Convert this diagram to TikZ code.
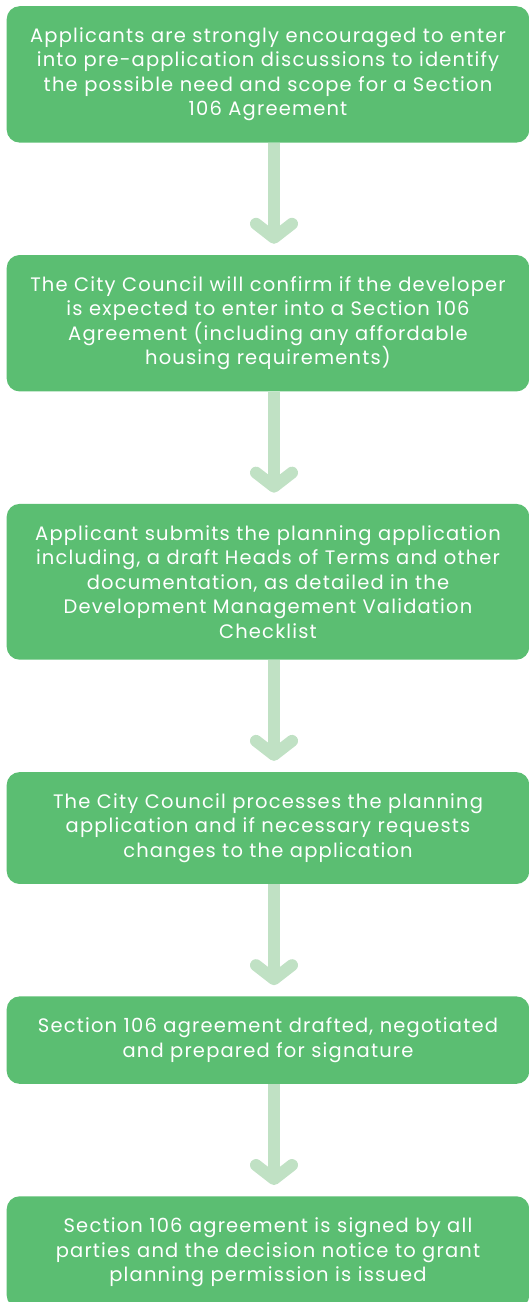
\documentclass[tikz,border=0pt]{standalone}
\usepackage{fontspec}
\setmainfont{Poppins}[LetterSpace=6]
\usepackage{xcolor}
\definecolor{stepgreen}{HTML}{5BBE72}
\definecolor{arrowgreen}{HTML}{C0E1C4}
\usetikzlibrary{arrows.meta,positioning}
\tikzset{
  flowbox/.style={fill=stepgreen,rounded corners=13pt,align=center,text=white,minimum width=520pt,text width=516pt,inner ysep=21.4pt,font=\fontsize{19.5}{24.5}\selectfont},
  flowarrow/.style={-{Straight Barb[length=14pt,width=36pt,round]},line width=12pt,arrowgreen,shorten >=11pt}
}
\begin{document}
\begin{tikzpicture}[x=1pt,y=1pt,node distance=112pt]
\useasboundingbox (0,0) rectangle (529,-1302);
\clip (0,0) rectangle (529,-1302);
\node[flowbox,anchor=north] (pre) at (268,-6) {Applicants are strongly encouraged to enter\\into pre-application discussions to identify\\the possible need and scope for a Section\\106 Agreement};
\node[flowbox,below=of pre] (confirm) {The City Council will confirm if the developer\\is expected to enter into a Section 106\\Agreement (including any affordable\\housing requirements)};
\node[flowbox,below=of confirm] (submit) {Applicant submits the planning application\\including, a draft Heads of Terms and other\\documentation, as detailed in the\\Development Management Validation\\Checklist};
\node[flowbox,below=of submit] (process) {The City Council processes the planning\\application and if necessary requests\\changes to the application};
\node[flowbox,below=of process] (drafted) {Section 106 agreement drafted, negotiated\\and prepared for signature};
\node[flowbox,below=of drafted] (signed) {Section 106 agreement is signed by all\\parties and the decision notice to grant\\planning permission is issued};
\draw[flowarrow] ([xshift=6pt]pre.south)--([xshift=6pt]confirm.north);
\draw[flowarrow] ([xshift=6pt]confirm.south)--([xshift=6pt]submit.north);
\draw[flowarrow] ([xshift=6pt]submit.south)--([xshift=6pt]process.north);
\draw[flowarrow] ([xshift=6pt]process.south)--([xshift=6pt]drafted.north);
\draw[flowarrow] ([xshift=6pt]drafted.south)--([xshift=6pt]signed.north);
\end{tikzpicture}
\end{document}
